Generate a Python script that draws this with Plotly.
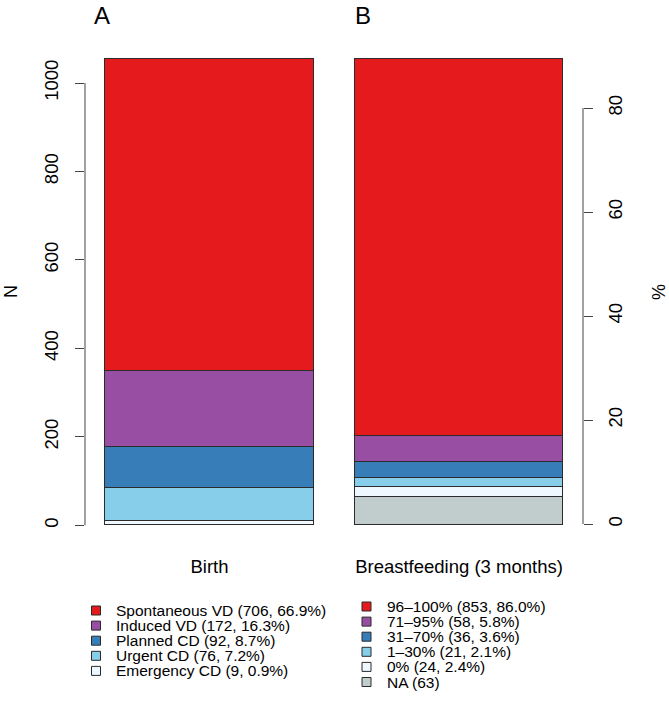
import plotly.graph_objects as go

W, H = 669, 706

# ---------------- data ----------------
birth_labels = ["Spontaneous VD", "Induced VD", "Planned CD", "Urgent CD", "Emergency CD"]
birth_counts = [706, 172, 92, 76, 9]
bf_labels = ["96–100%", "71–95%", "31–70%", "1–30%", "0%", "NA"]
bf_counts = [853, 58, 36, 21, 24, 63]
categories = ["Birth", "Breastfeeding (3 months)"]
panel_letters = ["A", "B"]
n_ticks = [0, 200, 400, 600, 800, 1000]
pct_ticks = [0, 20, 40, 60, 80]

birth_colors = ["#E41A1C", "#984EA3", "#377EB8", "#87CEEB", "#F0F8FF"]
bf_colors = ["#E41A1C", "#984EA3", "#377EB8", "#87CEEB", "#F0F8FF", "#C1CDCD"]

FONT = "Liberation Sans, Arial, Helvetica, sans-serif"
EDGE = "#2b2b2b"
AX = "#444"


def px(x):
    return x / W


def py(y):
    return 1 - y / H


# legend labels
birth_total = sum(birth_counts)
birth_leg = [f"{l} ({n}, {100 * n / birth_total:.1f}%)" for l, n in zip(birth_labels, birth_counts)]
bf_valid = sum(n for l, n in zip(bf_labels, bf_counts) if l != "NA")
bf_leg = [(f"{l} ({n})" if l == "NA" else f"{l} ({n}, {100 * n / bf_valid:.1f}%)")
          for l, n in zip(bf_labels, bf_counts)]

fig = go.Figure()

# stacked bars: first trace at bottom -> add in reverse order
for lab, n, c in reversed(list(zip(birth_labels, birth_counts, birth_colors))):
    fig.add_trace(go.Bar(x=[categories[0]], y=[n], name=lab, width=1,
                         marker=dict(color=c, line=dict(color=EDGE, width=1)),
                         xaxis="x", yaxis="y", showlegend=False, hoverinfo="skip"))
for lab, n, c in reversed(list(zip(bf_labels, bf_counts, bf_colors))):
    fig.add_trace(go.Bar(x=[categories[1]], y=[n], name=lab, width=1,
                         marker=dict(color=c, line=dict(color=EDGE, width=1)),
                         xaxis="x2", yaxis="y2", showlegend=False, hoverinfo="skip"))

ydom = [py(544), py(40)]
yrange = [-42.2, 1097.2]
xr = [-0.596, 0.596]

TICKSIZE = 18.5

common_x = dict(range=xr, showgrid=False, zeroline=False, showline=False, ticks="",
                tickfont=dict(family=FONT, size=TICKSIZE, color="black"), ticklabelstandoff=9,
                fixedrange=True)

fig.update_layout(
    width=W, height=H, autosize=False,
    margin=dict(l=0, r=0, t=0, b=0),
    paper_bgcolor="white", plot_bgcolor="white",
    barmode="stack", bargap=0,
    showlegend=False,
    font=dict(family=FONT, color="black"),
    xaxis=dict(domain=[px(85), px(334)], anchor="y", **common_x),
    xaxis2=dict(domain=[px(335), px(583)], anchor="y2", **common_x),
    yaxis=dict(domain=ydom, range=yrange, anchor="x", tickvals=n_ticks, tickangle=-90,
               ticks="outside", ticklen=9, tickcolor=AX, tickwidth=1,
               showline=False, showgrid=False, zeroline=False, fixedrange=True,
               tickfont=dict(family=FONT, size=TICKSIZE, color="black"), ticklabelstandoff=10),
    yaxis2=dict(domain=ydom, range=yrange, anchor="x2", visible=False,
                showgrid=False, zeroline=False, fixedrange=True),
    yaxis3=dict(domain=ydom, range=[-3.846, 93.08], anchor="x2", overlaying="y2", side="right",
                tickvals=pct_ticks, tickangle=-90, ticks="outside", ticklen=9,
                tickcolor=AX, tickwidth=1, showline=False, showgrid=False, zeroline=False,
                fixedrange=True,
                tickfont=dict(family=FONT, size=TICKSIZE, color="black"), ticklabelstandoff=7),
)

shapes = []
# axis brackets (R style, from first to last tick)
shapes.append(dict(type="line", xref="x domain", yref="y", x0=0, x1=0,
                   y0=n_ticks[0], y1=n_ticks[-1], line=dict(color=AX, width=1)))
shapes.append(dict(type="line", xref="x2 domain", yref="y3", x0=1, x1=1,
                   y0=pct_ticks[0], y1=pct_ticks[-1], line=dict(color=AX, width=1)))

annotations = []
# panel letters
annotations.append(dict(text=panel_letters[0], x=px(102), y=py(16), xref="paper", yref="paper",
                        showarrow=False, font=dict(size=24, family=FONT), xanchor="center",
                        yanchor="middle"))
annotations.append(dict(text=panel_letters[1], x=px(363), y=py(16), xref="paper", yref="paper",
                        showarrow=False, font=dict(size=24, family=FONT), xanchor="center",
                        yanchor="middle"))
# axis titles
annotations.append(dict(text="N", x=px(11), y=py(292), xref="paper", yref="paper",
                        showarrow=False, textangle=-90, font=dict(size=18, family=FONT),
                        xanchor="center", yanchor="middle"))
annotations.append(dict(text="%", x=px(659), y=py(292), xref="paper", yref="paper",
                        showarrow=False, textangle=-90, font=dict(size=18, family=FONT),
                        xanchor="center", yanchor="middle"))


def add_legend(labels, colors, box_x, text_x, y0, dy):
    for i, (lab, c) in enumerate(zip(labels, colors)):
        yc = y0 + i * dy
        shapes.append(dict(type="rect", xref="paper", yref="paper",
                           x0=px(box_x - 4.5), x1=px(box_x + 4.5),
                           y0=py(yc + 4.5), y1=py(yc - 4.5),
                           fillcolor=c, line=dict(color=EDGE, width=1)))
        annotations.append(dict(text=lab, x=px(text_x), y=py(yc), xref="paper", yref="paper",
                                showarrow=False, xanchor="left", yanchor="middle",
                                borderpad=0,
                                font=dict(size=15.5, family=FONT, color="black")))


add_legend(birth_leg, birth_colors, 96, 115, 610.5, 15.1)
add_legend(bf_leg, bf_colors, 366.5, 386, 606.5, 15.1)

fig.update_layout(shapes=shapes, annotations=annotations)

fig.write_html("out.html", config={"displayModeBar": False},
               post_script="document.body.style.margin='0';")
